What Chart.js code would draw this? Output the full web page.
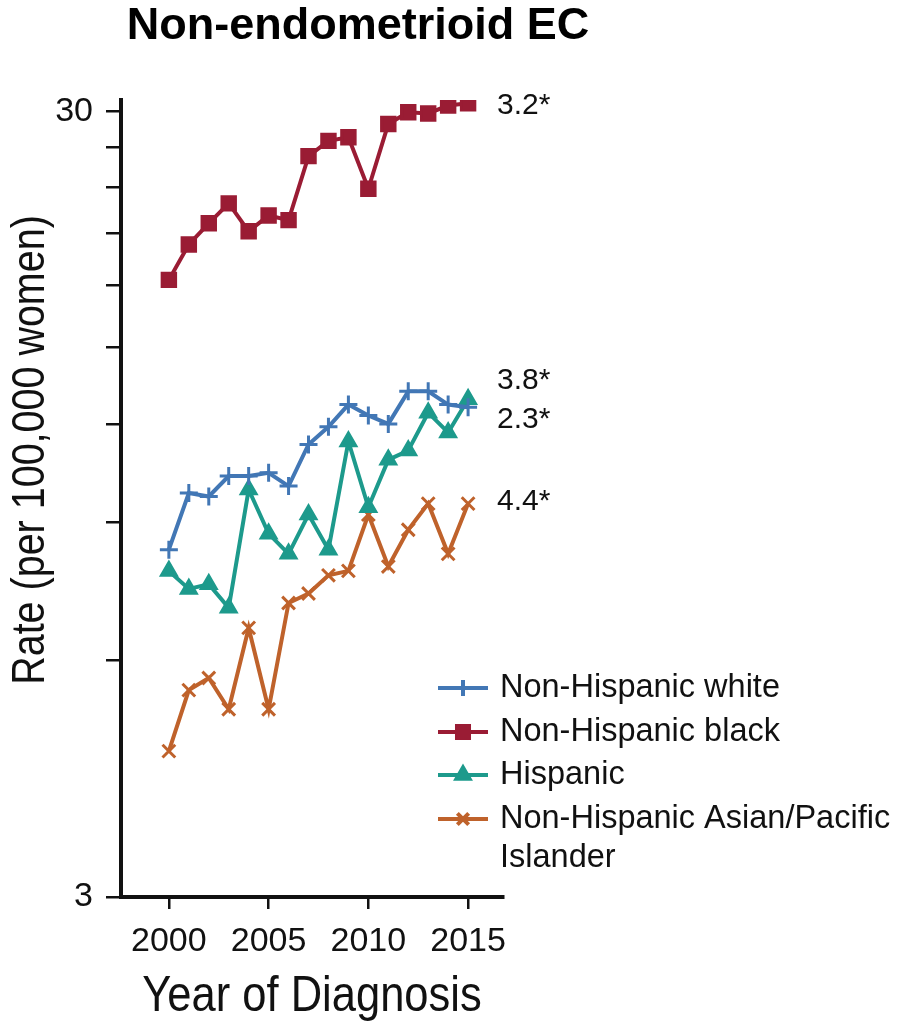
<!DOCTYPE html>
<html>
<head>
<meta charset="utf-8">
<title>Non-endometrioid EC</title>
<script src="https://cdn.jsdelivr.net/npm/chart.js@4.4.1/dist/chart.umd.min.js"></script>
<style>
    body { margin: 0; background: #fff; }
    #wrap { width: 897px; height: 1024px; position: relative; }
</style>
</head>
<body>
<div id="wrap"><canvas id="rateChart"></canvas></div>
<script>
// values (rate per 100,000 women, log axis)
const years = [2000, 2001, 2002, 2003, 2004, 2005, 2006, 2007, 2008, 2009, 2010, 2011, 2012, 2013, 2014, 2015];
const whiteRates = [8.3, 9.8, 9.7, 10.3, 10.3, 10.4, 10.0, 11.3, 11.9, 12.7, 12.3, 12.0, 13.2, 13.2, 12.7, 12.6];
const blackRates = [18.3, 20.3, 21.6, 22.9, 21.1, 22.1, 21.8, 26.3, 27.5, 27.8, 23.9, 28.9, 29.9, 29.8, 30.5, 30.7];
const hispanicRates = [7.8, 7.4, 7.5, 7.0, 9.9, 8.7, 8.2, 9.2, 8.3, 11.4, 9.4, 10.8, 11.1, 12.4, 11.7, 12.9];
const asianRates = [4.6, 5.5, 5.7, 5.2, 6.6, 5.2, 7.1, 7.3, 7.7, 7.8, 9.2, 7.9, 8.8, 9.5, 8.2, 9.5];

const seriesNames = ["Non-Hispanic white", "Non-Hispanic black", "Hispanic", "Non-Hispanic Asian/Pacific Islander"];
const apcLabels = ["2.3*", "3.2*", "3.8*", "4.4*"];

const xTicks = [2000, 2005, 2010, 2015];
const yTicks = [3, 6, 9, 12, 15, 18, 21, 24, 27, 30];
const yLabelled = [3, 30];

function toPoints(values) {
    return values.map((v, i) => ({ x: years[i], y: v }));
}

function lineSet(label, values, color, style, radius) {
    return {
        label: label,
        data: toPoints(values),
        borderColor: color,
        backgroundColor: color,
        borderWidth: 4,
        pointStyle: style,
        pointRadius: radius,
        pointBorderWidth: 3,
        pointBorderColor: color,
        pointBackgroundColor: color,
        tension: 0
    };
}

// condensed text: the figure uses a narrow face we don't have, so squeeze it
function narrowText(ctx, text, x, y, squeeze) {
    ctx.save();
    ctx.translate(x, y);
    ctx.scale(squeeze, 1);
    ctx.fillText(text, 0, 0);
    ctx.restore();
}

// labels and legend that sit outside the plot box
const extrasPlugin = {
    id: "extras",
    afterDraw(chart) {
        const ctx = chart.ctx;
        const xs = chart.scales.x, ys = chart.scales.y;
        ctx.save();
        ctx.fillStyle = "#000";

        // title
        ctx.font = "bold 45px 'Liberation Sans', Arial, sans-serif";
        ctx.textAlign = "center";
        ctx.textBaseline = "middle";
        ctx.fillText("Non-endometrioid EC", 358, 27);

        // y axis title
        ctx.save();
        ctx.translate(31, 450);
        ctx.rotate(-Math.PI / 2);
        ctx.font = "47px 'Liberation Sans', sans-serif";
        ctx.fillStyle = "#111";
        narrowText(ctx, "Rate (per 100,000 women)", 0, 0, 0.84);
        ctx.restore();

        // x axis title
        ctx.font = "50px 'Liberation Sans', sans-serif";
        ctx.fillStyle = "#111";
        narrowText(ctx, "Year of Diagnosis", (xs.left + xs.right) / 2, 997, 0.87);

        // APC labels next to last points
        const labelShift = [12, 2, -18, -2];
        ctx.font = "30px 'Liberation Sans', Arial, sans-serif";
        ctx.textAlign = "left";
        chart.data.datasets.forEach((ds, i) => {
            const last = ds.data[ds.data.length - 1];
            const px = xs.getPixelForValue(last.x) + 29;
            const py = ys.getPixelForValue(last.y) + labelShift[i];
            ctx.fillText(apcLabels[i], px, py);
        });

        // legend
        const rowY = [688, 732, 775, 819];
        ctx.font = "32.5px 'Liberation Sans', Arial, sans-serif";
        chart.data.datasets.forEach((ds, i) => {
            const y = rowY[i];
            ctx.strokeStyle = ds.borderColor;
            ctx.lineWidth = 4;
            ctx.beginPath();
            ctx.moveTo(438, y);
            ctx.lineTo(488, y);
            ctx.stroke();
            Chart.helpers.drawPoint(ctx, {
                pointStyle: ds.pointStyle,
                radius: ds.pointRadius - 1,
                borderWidth: ds.pointBorderWidth,
                rotation: 0
            }, 463, y);
            ctx.fillStyle = ds.borderColor;
            ctx.fill();
            ctx.fillStyle = "#111";
            if (i === 3) {
                ctx.fillText("Non-Hispanic Asian/Pacific", 500, y);
                ctx.fillText("Islander", 500, y + 39);
            } else {
                ctx.fillText(ds.label, 500, y);
            }
        });
        ctx.restore();
    }
};

const ctx = document.getElementById("rateChart").getContext("2d");
const rateChart = new Chart(ctx, {
    type: "line",
    data: {
        datasets: [
            lineSet(seriesNames[0], whiteRates, "#4277b5", "cross", 9),
            lineSet(seriesNames[1], blackRates, "#9a1c34", "rect", 9.5),
            lineSet(seriesNames[2], hispanicRates, "#1d9a8c", "triangle", 8.5),
            lineSet(seriesNames[3], asianRates, "#bf622b", "crossRot", 9)
        ]
    },
    options: {
        responsive: true,
        maintainAspectRatio: false,
        animation: false,
        layout: { padding: { top: 100, left: 0, right: 394, bottom: 0 } },
        plugins: {
            legend: { display: false },
            tooltip: { enabled: false }
        },
        scales: {
            x: {
                type: "linear",
                min: 1997.6,
                max: 2016.75,
                afterBuildTicks: scale => { scale.ticks = xTicks.map(v => ({ value: v })); },
                afterFit: scale => { scale.height = 127; },
                ticks: {
                    color: "#111",
                    font: { family: "'Liberation Sans', Arial, sans-serif", size: 34 },
                    padding: 12,
                    maxRotation: 0,
                    callback: v => String(v)
                },
                grid: { drawOnChartArea: false, drawTicks: true, tickLength: 12, lineWidth: 2.5, color: "#111" },
                border: { display: true, width: 4, color: "#111" }
            },
            y: {
                type: "logarithmic",
                min: 3,
                max: 31,
                afterBuildTicks: scale => { scale.ticks = yTicks.map(v => ({ value: v })); },
                afterFit: scale => { scale.width = 121; },
                ticks: {
                    color: "#111",
                    font: { family: "'Liberation Sans', Arial, sans-serif", size: 34 },
                    padding: 13,
                    callback: v => (yLabelled.includes(v) ? String(v) : "")
                },
                grid: { drawOnChartArea: false, drawTicks: true, tickLength: 15, lineWidth: 2.5, color: "#111" },
                border: { display: true, width: 4, color: "#111" }
            }
        }
    },
    plugins: [extrasPlugin]
});
</script>
</body>
</html>
